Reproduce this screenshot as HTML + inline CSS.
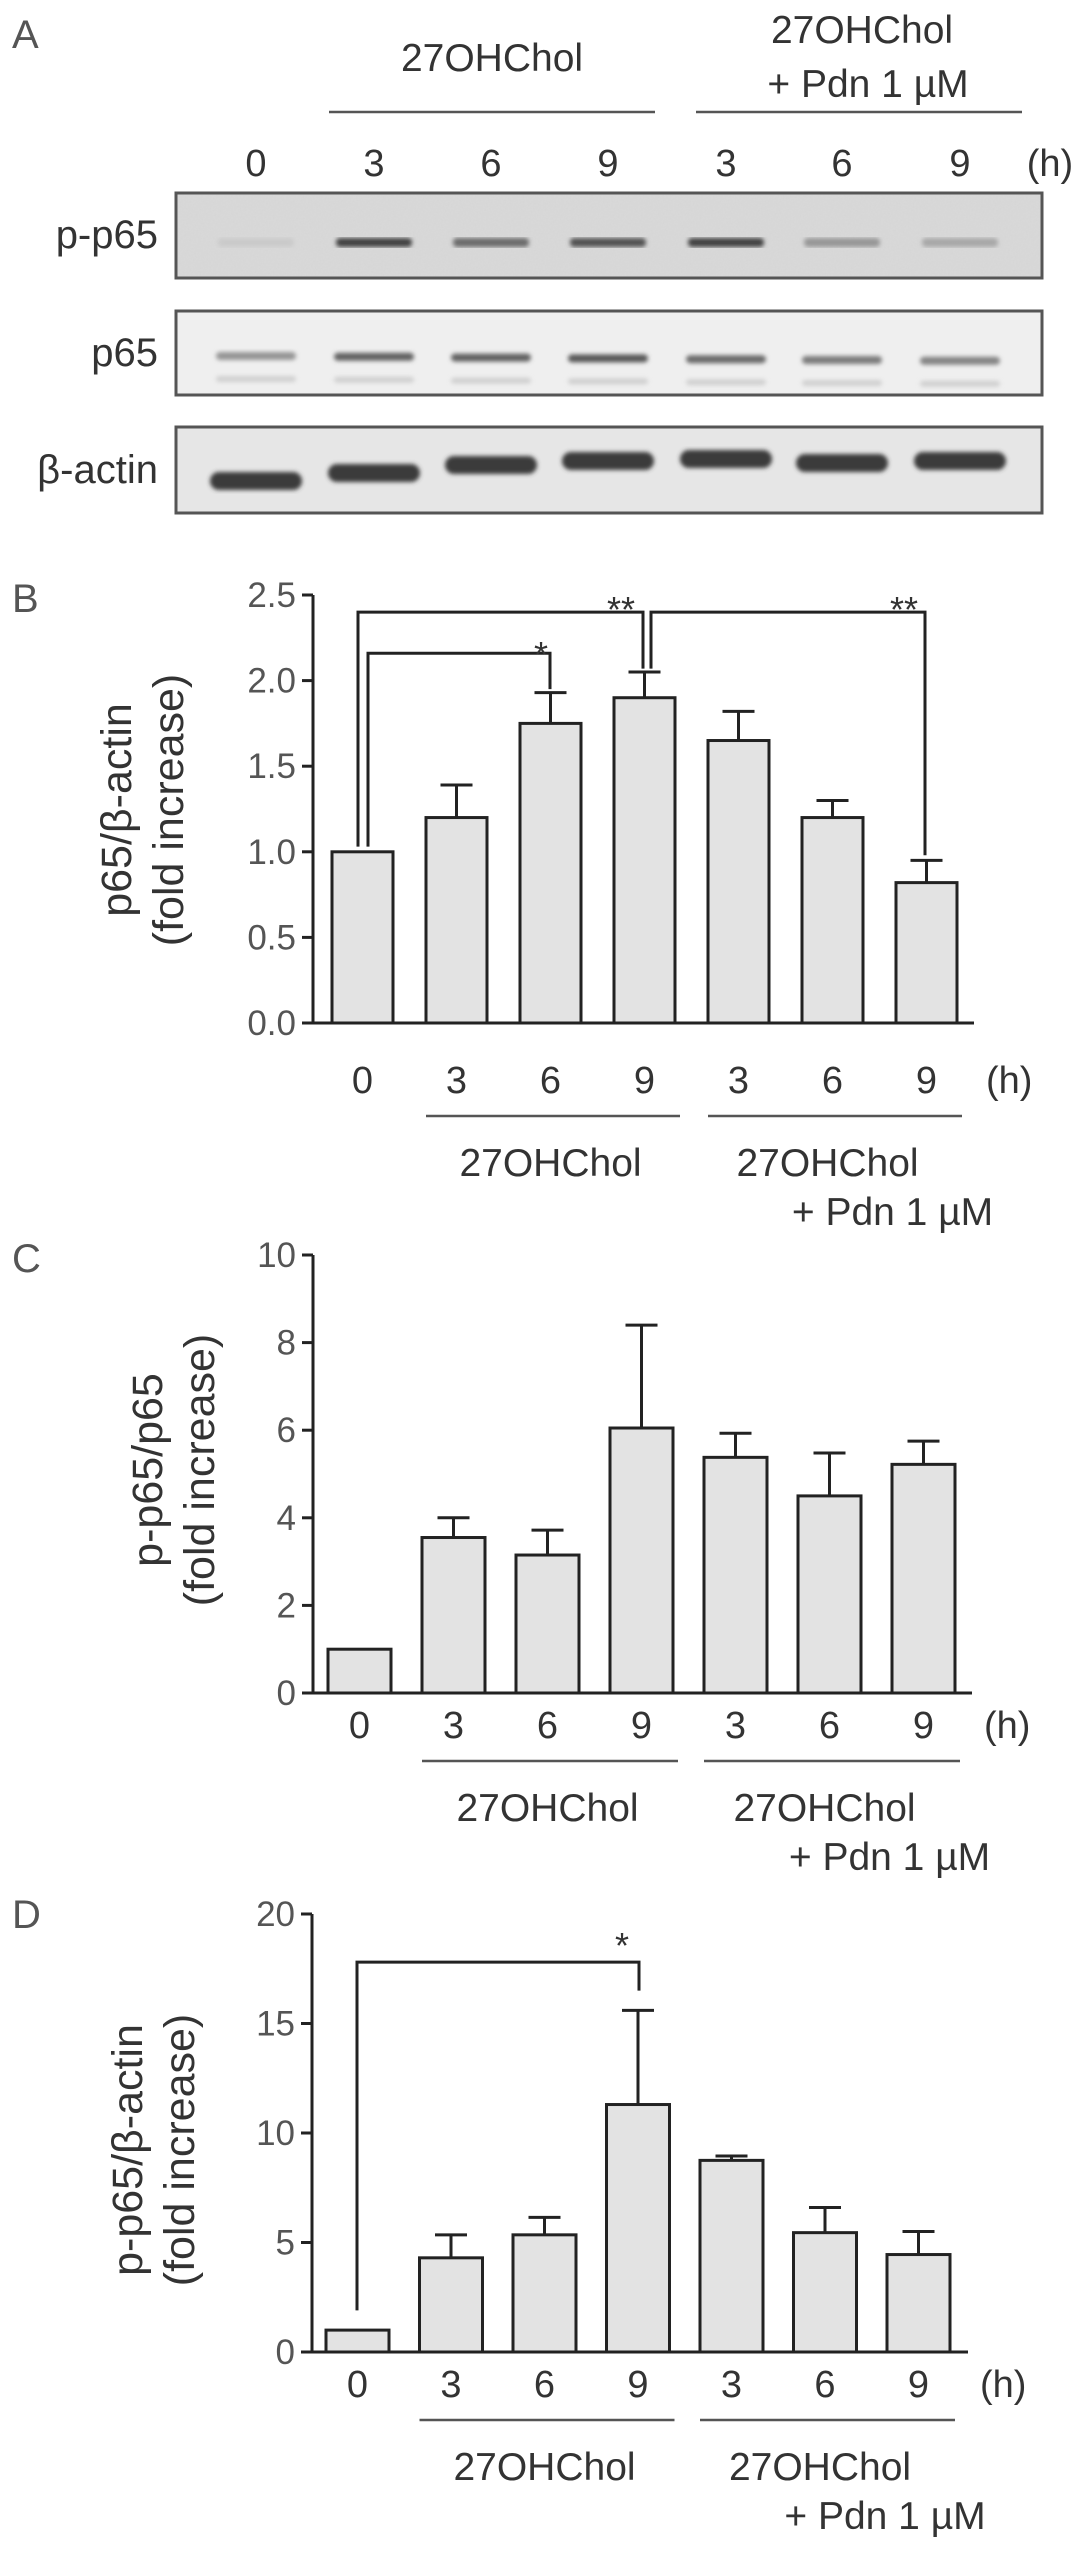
<!DOCTYPE html>
<html><head><meta charset="utf-8"><style>
html,body{margin:0;padding:0;background:#fff;}
svg{display:block;font-family:"Liberation Sans",Arial,sans-serif;}
</style></head><body>
<svg id="fig" width="1087" height="2554" viewBox="0 0 1087 2554" xmlns="http://www.w3.org/2000/svg">
<defs>
<filter id="blur2"><feGaussianBlur stdDeviation="2"/></filter>
<filter id="noise" x="0" y="0" width="1" height="1"><feTurbulence type="fractalNoise" baseFrequency="0.6" numOctaves="2" result="n"/><feColorMatrix type="matrix" values="0 0 0 0 0.5  0 0 0 0 0.5  0 0 0 0 0.5  0 0 0 0.12 0"/></filter>
</defs>
<g fill="#333">
<text x="12" y="48" font-size="40" fill="#555">A</text>
<text x="492" y="71" font-size="39" text-anchor="middle">27OHChol</text>
<text x="862" y="43" font-size="39" text-anchor="middle">27OHChol</text>
<text x="868" y="97" font-size="39" text-anchor="middle">+ Pdn 1 µM</text>
<line x1="329" y1="112" x2="655" y2="112" stroke="#555" stroke-width="2.5"/>
<line x1="696" y1="112" x2="1022" y2="112" stroke="#555" stroke-width="2.5"/>
<g id="laneLabels" font-size="38" text-anchor="middle"></g>
<text x="158" y="248" font-size="40" text-anchor="end">p-p65</text>
<text x="158" y="366" font-size="40" text-anchor="end">p65</text>
<text x="158" y="483" font-size="40" text-anchor="end">β-actin</text>
<g>
<rect x="176" y="193" width="866" height="85" fill="#d9d9d9" stroke="#555" stroke-width="3"/>
<rect x="178" y="195" width="862" height="81" filter="url(#noise)"/>
<g id="bandsP" filter="url(#blur2)"></g>
</g>
<g>
<rect x="176" y="311" width="866" height="84" fill="#efefef" stroke="#555" stroke-width="3"/>
<g id="bandsT" filter="url(#blur2)"></g>
</g>
<g>
<rect x="176" y="427" width="866" height="86" fill="#e6e6e6" stroke="#555" stroke-width="3"/>
<g id="bandsA" filter="url(#blur2)"></g>
</g>
</g>
<g id="chartB"></g>
<g id="chartC"></g>
<g id="chartD"></g>
</svg>
<script>
const NS = "http://www.w3.org/2000/svg";
const lanes = ["0","3","6","9","3","6","9"];
const laneX = [256,374,491,608,726,842,960];
// band intensities (0..1) read from blot
const pp65Intensity = [0.05,0.85,0.6,0.75,0.85,0.35,0.25];
const p65Intensity = [0.45,0.75,0.75,0.8,0.7,0.6,0.55];
const actinOffsets = [16,8,0,-4,-6,-2,-4];

// Panel B data
const bValues = [1.0,1.2,1.75,1.9,1.65,1.2,0.82];
const bErrors = [0,0.19,0.18,0.15,0.17,0.1,0.13];
const bTicks = ["0.0","0.5","1.0","1.5","2.0","2.5"];
const bTickVals = [0,0.5,1,1.5,2,2.5];
// Panel C data
const cValues = [1.0,3.55,3.15,6.05,5.38,4.5,5.22];
const cErrors = [0,0.45,0.57,2.35,0.55,0.98,0.53];
const cTicks = ["0","2","4","6","8","10"];
const cTickVals = [0,2,4,6,8,10];
// Panel D data
const dValues = [1.0,4.3,5.35,11.3,8.75,5.45,4.45];
const dErrors = [0,1.05,0.8,4.3,0.2,1.15,1.05];
const dTicks = ["0","5","10","15","20"];
const dTickVals = [0,5,10,15,20];

function el(tag, attrs, parent){
  const e = document.createElementNS(NS, tag);
  for (const k in attrs) e.setAttribute(k, attrs[k]);
  parent.appendChild(e);
  return e;
}

const ll = document.getElementById('laneLabels');
lanes.forEach((l,i)=>{
  const t = el('text',{x:laneX[i],y:176},ll); t.textContent=l;
  
  
});
const hl = el('text',{x:1050,y:176},ll); hl.textContent='(h)';



const bp = document.getElementById('bandsP');
pp65Intensity.forEach((v,i)=>{
  const g = Math.round(210 - v*170);
  const r = el('rect',{x:laneX[i]-38,y:238,width:76,height:9,rx:4,fill:`rgb(${g},${g},${g})`},bp);
  
  
});
const bt = document.getElementById('bandsT');
p65Intensity.forEach((v,i)=>{
  const g = Math.round(225 - v*170);
  const r = el('rect',{x:laneX[i]-40,y:352+i*0.8,width:80,height:8,rx:4,fill:`rgb(${g},${g},${g})`},bt);
  
  
  const r2 = el('rect',{x:laneX[i]-40,y:376+i*0.8,width:80,height:6,rx:3,fill:'#d0d0d0'},bt);
  
  
});
const ba = document.getElementById('bandsA');
actinOffsets.forEach((o,i)=>{
  const r = el('rect',{x:laneX[i]-46,y:456+o,width:92,height:18,rx:9,fill:'#3a3a3a'},ba);
  
  
});

function drawChart(cfg){
  const g = document.getElementById(cfg.id);
  const yScale = v => cfg.y0 - (v - 0) * (cfg.y0 - cfg.yTop) / cfg.max;
  const xLeft = i => cfg.firstLeft + i*cfg.step;
  const lab = el('text',{x:12,y:cfg.labelY,'font-size':40,fill:'#555'},g);
  lab.textContent = cfg.letter;
  
  
  const ax = el('line',{x1:cfg.axisX,y1:yScale(cfg.max),x2:cfg.axisX,y2:cfg.y0,stroke:'#222','stroke-width':3},g);
  
  
  const xa = el('line',{x1:cfg.axisX-11,y1:cfg.y0,x2:cfg.axisEnd,y2:cfg.y0,stroke:'#222','stroke-width':3},g);
  
  
  cfg.tickVals.forEach((v,i)=>{
    const y = yScale(v);
    const tk = el('line',{x1:cfg.axisX-11,y1:y,x2:cfg.axisX,y2:y,stroke:'#222','stroke-width':3},g);
    
    
    const t = el('text',{x:cfg.axisX-17,y:y+12,'font-size':35,'text-anchor':'end',fill:'#555'},g);
    t.textContent = cfg.ticks[i];
    
    
  });
  cfg.values.forEach((v,i)=>{
    const x = xLeft(i), c = x + cfg.bw/2;
    if (cfg.errors[i] > 0){
      const top = yScale(v + cfg.errors[i]);
      const e1 = el('line',{x1:c,y1:yScale(v),x2:c,y2:top,stroke:'#222','stroke-width':3},g);
      
      
      const e2 = el('line',{x1:c-16,y1:top,x2:c+16,y2:top,stroke:'#222','stroke-width':3},g);
      
      
    }
    const r = el('rect',{x:x,y:yScale(v),width:cfg.bw,height:cfg.y0-yScale(v),fill:'#e3e3e3',stroke:'#222','stroke-width':3},g);
    
    
    const t = el('text',{x:c,y:cfg.y0+cfg.numDy,'font-size':38,'text-anchor':'middle',fill:'#333'},g);
    t.textContent = lanes[i];
    
    
  });
  const h = el('text',{x:cfg.axisEnd+12,y:cfg.y0+cfg.numDy,'font-size':38,fill:'#333'},g);
  h.textContent='(h)';
  
  
  const gy = cfg.y0 + cfg.numDy + 23;
  const l1 = el('line',{x1:xLeft(1),y1:gy,x2:xLeft(3)+cfg.bw+5,y2:gy,stroke:'#555','stroke-width':2.5},g);
  
  
  const l2 = el('line',{x1:xLeft(4),y1:gy,x2:xLeft(6)+cfg.bw+5,y2:gy,stroke:'#555','stroke-width':2.5},g);
  
  
  const g1 = el('text',{x:(xLeft(1)+xLeft(3)+cfg.bw)/2,y:gy+60,'font-size':39,'text-anchor':'middle',fill:'#333'},g);
  g1.textContent='27OHChol';
  
  
  const g2 = el('text',{x:(xLeft(4)+xLeft(6)+cfg.bw)/2-5,y:gy+60,'font-size':39,'text-anchor':'middle',fill:'#333'},g);
  g2.textContent='27OHChol';
  
  
  const g3 = el('text',{x:(xLeft(4)+xLeft(6)+cfg.bw)/2+60,y:gy+109,'font-size':39,'text-anchor':'middle',fill:'#333'},g);
  g3.textContent='+ Pdn 1 µM';
  
  
  const ty = el('text',{'font-size':43,'text-anchor':'middle',fill:'#333',transform:`translate(${cfg.titleX},${cfg.titleY}) rotate(-90)`},g);
  
  
  const s1 = el('tspan',{x:0,y:0},ty); s1.textContent = cfg.title;
  const s2 = el('tspan',{x:0,y:52},ty); s2.textContent = '(fold increase)';
  return {yScale,xLeft};
}

const B = drawChart({id:'chartB',letter:'B',labelY:612,axisX:313,axisEnd:974,y0:1023,yTop:595,max:2.5,
  firstLeft:332,step:94,bw:61,ticks:bTicks,tickVals:bTickVals,values:bValues,errors:bErrors,numDy:70,
  title:'p65/β-actin',titleX:131,titleY:810});
const C = drawChart({id:'chartC',letter:'C',labelY:1272,axisX:313,axisEnd:972,y0:1693,yTop:1255,max:10,
  firstLeft:328,step:94,bw:63,ticks:cTicks,tickVals:cTickVals,values:cValues,errors:cErrors,numDy:45,
  title:'p-p65/p65',titleX:162,titleY:1470});
const D = drawChart({id:'chartD',letter:'D',labelY:1928,axisX:312,axisEnd:968,y0:2352,yTop:1914,max:20,
  firstLeft:326,step:93.5,bw:63,ticks:dTicks,tickVals:dTickVals,values:dValues,errors:dErrors,numDy:45,
  title:'p-p65/β-actin',titleX:142,titleY:2150});

function bracket(id, pts, star, sx, sy){
  const g = document.getElementById(id);
  const p = el('polyline',{points:pts.map(q=>q.join(',')).join(' '),fill:'none',stroke:'#222','stroke-width':3},g);
  
  
  const t = el('text',{x:sx,y:sy,'font-size':36,'text-anchor':'middle',fill:'#333'},g);
  t.textContent = star;
  
  
}
bracket('chartB',[[358,B.yScale(1.03)],[358,B.yScale(2.4)],[643,B.yScale(2.4)],[643,B.yScale(2.07)]],'**',621,622);
bracket('chartB',[[368,B.yScale(1.03)],[368,B.yScale(2.16)],[550,B.yScale(2.16)],[550,B.yScale(1.95)]],'*',541,667);
bracket('chartB',[[651,B.yScale(2.07)],[651,B.yScale(2.4)],[925,B.yScale(2.4)],[925,B.yScale(0.98)]],'**',904,622);
bracket('chartD',[[357,D.yScale(1.9)],[357,D.yScale(17.8)],[639,D.yScale(17.8)],[639,D.yScale(16.5)]],'*',622,1958);
</script>
</body></html>
